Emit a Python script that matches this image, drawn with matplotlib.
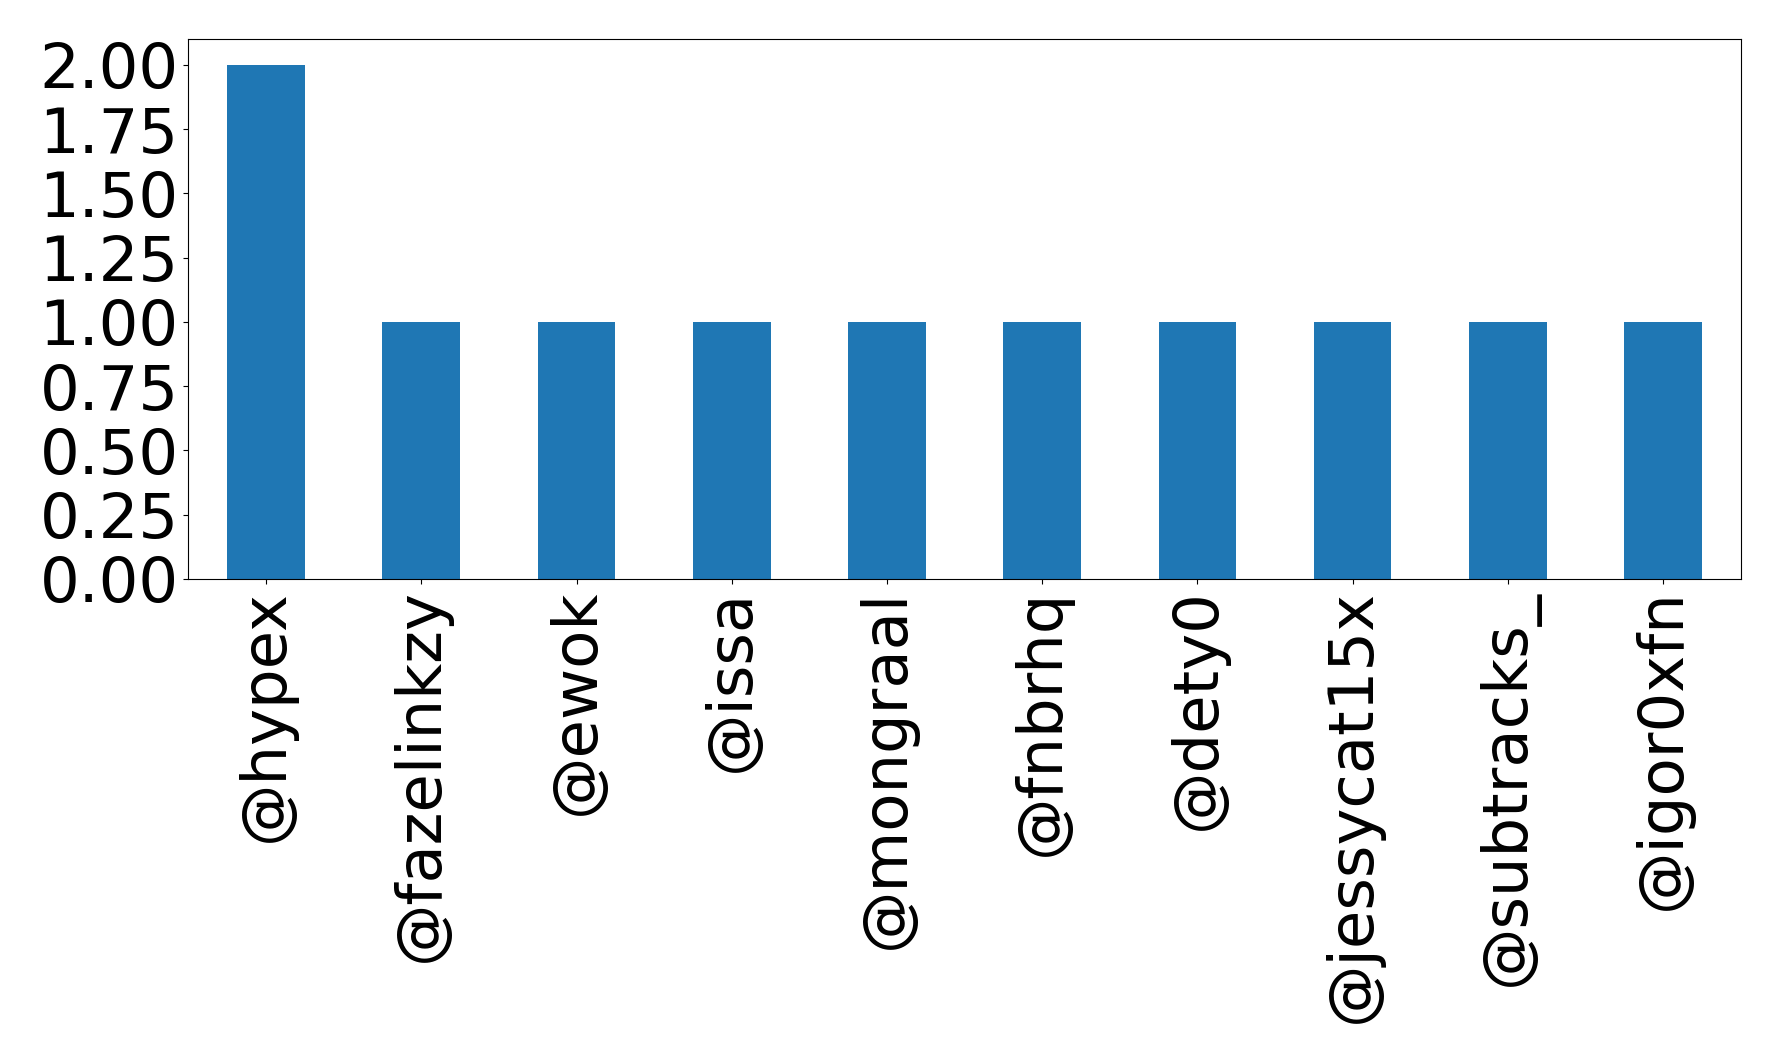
import matplotlib
matplotlib.use("Agg")
import matplotlib.pyplot as plt
import pandas as pd

users = ["@hypex", "@fazelinkzy", "@ewok", "@issa", "@mongraal",
         "@fnbrhq", "@dety0", "@jessycat15x", "@subtracks_", "@igor0xfn"]
counts = [2, 1, 1, 1, 1, 1, 1, 1, 1, 1]

s = pd.Series(counts, index=users)

fig = plt.figure(figsize=(17.78, 10.62), dpi=100)
ax = fig.add_axes([0.106, 0.455, 0.873, 0.508])
s.plot(kind="bar", ax=ax, color="#1f77b4", fontsize=45)
ax.set_yticks([0, 0.25, 0.5, 0.75, 1.0, 1.25, 1.5, 1.75, 2.0])
ax.set_yticklabels(["%.2f" % v for v in ax.get_yticks()])
fig.savefig("out.png", dpi=100)
